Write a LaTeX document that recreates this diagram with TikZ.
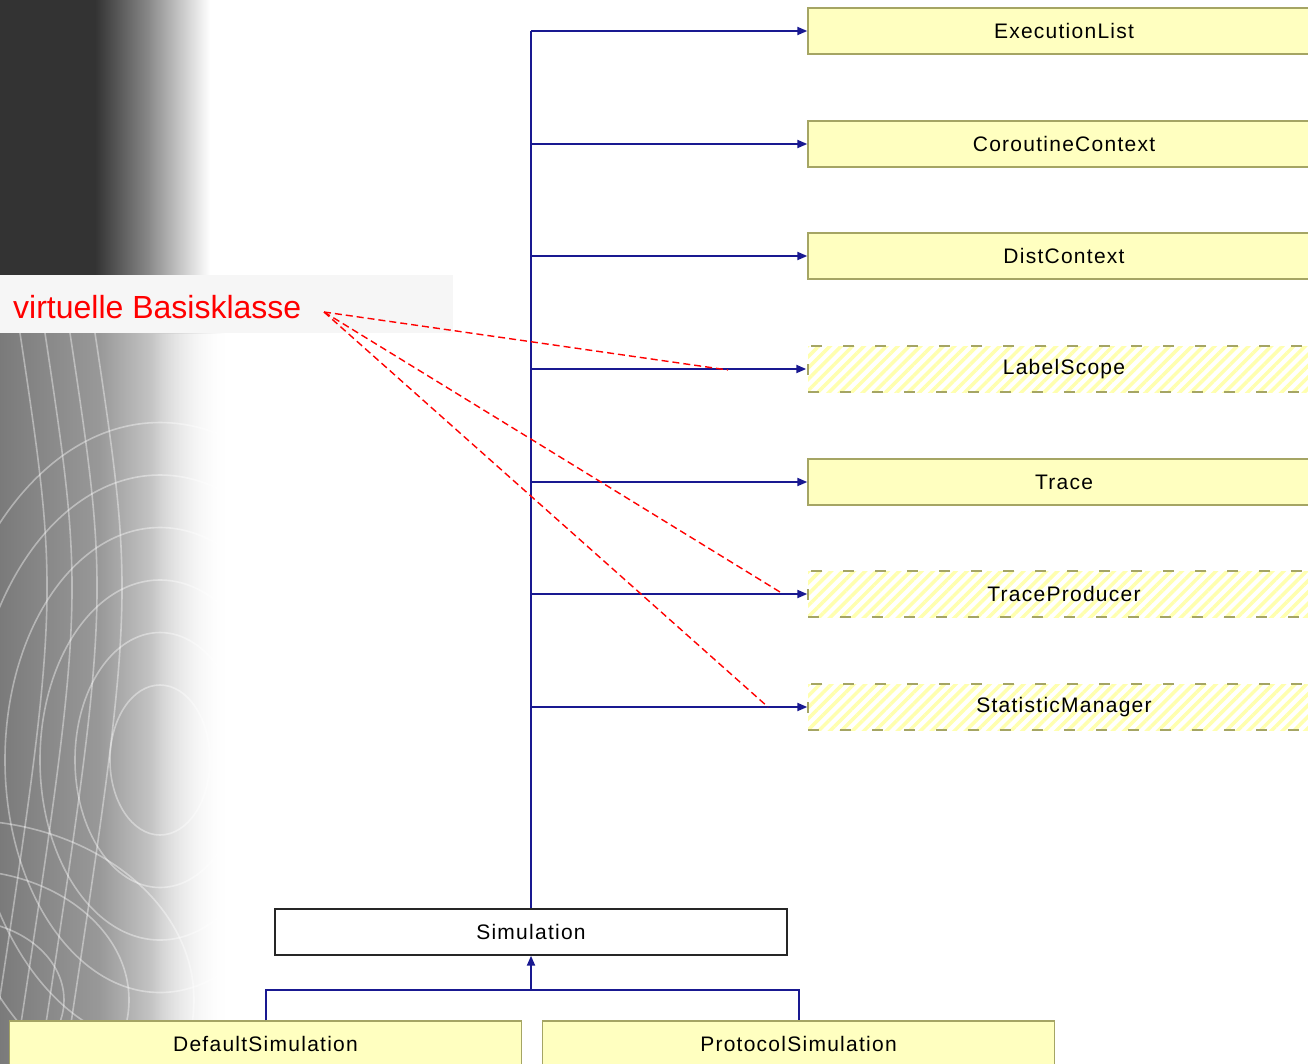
\documentclass[tikz,border=0pt]{standalone}
\usepackage{fontspec}
\setmainfont{Liberation Sans}
\newfontfamily\classfont{Liberation Sans}[LetterSpace=6]
\usetikzlibrary{arrows.meta,patterns.meta,fadings}
\definecolor{dgblue}{RGB}{25,25,145}
\definecolor{dgyellow}{RGB}{255,255,192}
\definecolor{dghatch}{RGB}{255,255,175}
\definecolor{dgolive}{RGB}{165,165,100}
\definecolor{dgred}{RGB}{255,0,0}
\definecolor{dglabel}{RGB}{246,246,246}
\tikzset{
  classbox/.style={draw=dgolive,fill=dgyellow,line width=1.4pt,
    minimum width=512pt,minimum height=46pt,inner sep=0pt,
    font=\classfont\fontsize{21}{24}\selectfont},
  virtbox/.style={classbox,fill=none,dash pattern=on 11pt off 21pt,
    pattern={Lines[angle=45,distance=8pt,line width=3.5pt]},pattern color=dghatch},
  rootbox/.style={classbox,draw=black!85,fill=white},
  inherit/.style={draw=dgblue,line width=2pt,-{Triangle[length=10pt,width=8pt]}},
  conn/.style={draw=dgblue,line width=2pt},
  hint/.style={draw=dgred,line width=1.4pt,dash pattern=on 7pt off 4pt},
  swirl/.style={draw=white,line width=1.6pt,opacity=0.4}
}

\begin{document}
\begin{tikzpicture}[x=1pt,y=-1pt]
  \useasboundingbox (0,0) rectangle (1308,1063);
  \clip (0,0) rectangle (1308,1063);
  \fill[white] (0,0) rectangle (1308,1063);

  % backdrop on the left
  \fill[black!80] (0,0) rectangle (96,334);
  \shade[left color=black!80,right color=black!45] (95,0) rectangle (151,334);
  \shade[left color=black!45,right color=white] (150,0) rectangle (210,334);
  \shade[left color=black!52,right color=black!40] (0,333) rectangle (101,1063);
  \shade[left color=black!40,right color=black!20] (100,333) rectangle (161,1063);
  \shade[left color=black!20,right color=white] (160,333) rectangle (225,1063);
  \begin{scope}
    \clip (0,333) rectangle (228,1063);
    \foreach \r in {50,85,120,155,190,225}
      \draw[swirl] (160,760) ellipse ({\r} and {1.5*\r});
    \foreach \r in {80,130,180}
      \draw[swirl] (-40,1000) ellipse ({1.3*\r} and {\r});
    \foreach \x in {20,45,70,95}
      \draw[swirl] (\x,333) .. controls (\x+40,600) .. (\x-30,1063);
  \end{scope}
  \fill[white,path fading=west] (150,333) rectangle (230,1063);

  % the label
  \fill[dglabel] (0,275) rectangle (453,333);
  \node[anchor=base west,text=dgred,font=\fontsize{32}{36}\selectfont,inner sep=0pt]
    (virtlabel) at (13,318) {virtuelle Basisklasse};
  \coordinate (hintsrc) at (324,312);

  % base classes
  \node[classbox] (exec)       at (1064,31)  {ExecutionList};
  \node[classbox] (coroutine)  at (1064,144) {CoroutineContext};
  \node[classbox] (dist)       at (1064,256) {DistContext};
  \node[virtbox]  (labelscope) at (1064,369) {LabelScope};
  \node[classbox] (trace)      at (1064,482) {Trace};
  \node[virtbox]  (traceprod)  at (1064,594) {TraceProducer};
  \node[virtbox]  (statman)    at (1064,707) {StatisticManager};

  % derived classes
  \node[rootbox]  (simulation)  at (531,932)    {Simulation};
  \node[classbox] (defaultsim)  at (265.5,1044) {DefaultSimulation};
  \node[classbox] (protocolsim) at (798.5,1044) {ProtocolSimulation};

  % inheritance
  \draw[conn] (simulation.north) -- (simulation.north |- exec.west);
  \foreach \n in {exec,coroutine,dist,labelscope,trace,traceprod,statman}
    \draw[inherit] (simulation.north |- \n.west) -- (\n.west);
  \coordinate (join) at ([yshift=-34pt]simulation.south);
  \draw[conn] (defaultsim.north) |- (join) -| (protocolsim.north);
  \draw[inherit] (join) -- (simulation.south);

  % hints to the virtual bases
  \coordinate (hintA) at (728,370);
  \coordinate (hintB) at (780,592);
  \coordinate (hintC) at (768,707);
  \draw[hint] (hintsrc) -- (hintA);
  \draw[hint] (hintsrc) -- (hintB);
  \draw[hint] (hintsrc) -- (hintC);
\end{tikzpicture}
\end{document}
